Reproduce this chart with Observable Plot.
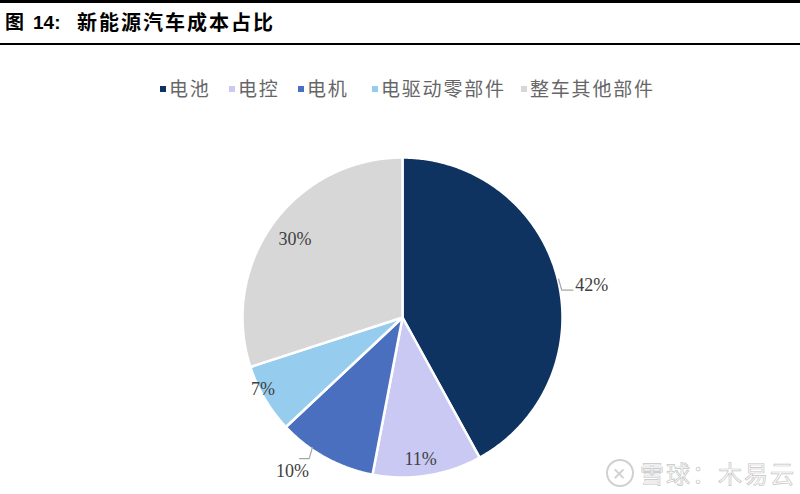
<!DOCTYPE html>
<html><head><meta charset="utf-8">
<script src="https://cdn.jsdelivr.net/npm/d3@7"></script>
<script src="https://cdn.jsdelivr.net/npm/@observablehq/plot@0.6"></script>
<style>
html,body{margin:0;padding:0;background:#fff;width:800px;height:494px;overflow:hidden;}
#title{position:absolute;left:0;top:0;width:800px;height:40px;border-top:3px solid #000;border-bottom:2px solid #000;font-family:"Liberation Sans","Noto Sans CJK SC",sans-serif;font-weight:bold;font-size:19px;line-height:40px;color:#000;}
#title .t1{position:absolute;left:5px;}
#title .t1b{position:absolute;left:33px;}
#title .t2{position:absolute;left:77px;letter-spacing:2px;font-size:20px;}
#legend{position:absolute;left:0;top:74px;width:800px;height:30px;font-family:"Noto Sans CJK SC",sans-serif;font-size:19px;color:#666;}
#legend .item{position:absolute;top:0;line-height:28px;letter-spacing:1.8px;white-space:nowrap;}
#legend .sw{display:inline-block;width:6px;height:6px;margin-right:3px;vertical-align:middle;position:relative;top:-2px;}
#chart{position:absolute;left:0;top:110px;}
#wm{position:absolute;left:606px;top:455px;font-family:"Noto Sans CJK SC",sans-serif;font-size:24px;color:#fff;-webkit-text-stroke:0.7px #c4c4c4;letter-spacing:2px;white-space:nowrap;}
#wm .logo{display:inline-block;width:24px;height:24px;border:2px solid #d0d0d0;border-radius:50%;vertical-align:middle;position:relative;top:-3px;margin-right:6px;font-size:17px;line-height:24px;text-align:center;color:#d0d0d0;-webkit-text-stroke:0;}
</style></head>
<body>
<div id="title"><span class="t1">图</span><span class="t1b">14:</span><span class="t2">新能源汽车成本占比</span></div>
<div id="legend"></div>
<div id="chart"></div>
<div id="wm"><span class="logo">✕</span>雪球：木易云</div>
<script>
const categories = ["电池", "电控", "电机", "电驱动零部件", "整车其他部件"];
const values = [42, 11, 10, 7, 30];
const labels = ["42%", "11%", "10%", "7%", "30%"];
const colors = ["#0f3361", "#c9c9f4", "#4a6fbe", "#96cdee", "#d7d7d7"];

// layout
const W = 800, H = 384, R = 160, cx = 402, cy = 207;
const legendX = [160, 229, 298, 372, 521];

// legend
const lg = d3.select("#legend");
categories.forEach((c, i) => {
  const it = lg.append("div").attr("class", "item").style("left", legendX[i] + "px");
  it.append("span").attr("class", "sw").style("background", colors[i]);
  it.append("span").text(c);
});

// slices
const pie = d3.pie().sort(null).value(d => d.value)(values.map((v, i) => ({cat: categories[i], value: v, i})));
const pts = [];
pie.forEach(p => {
  const n = Math.max(4, Math.ceil((p.endAngle - p.startAngle) / 0.01));
  pts.push({cat: p.data.cat, x: 0, y: 0});
  for (let k = 0; k <= n; k++) {
    const a = p.startAngle + (p.endAngle - p.startAngle) * k / n;
    pts.push({cat: p.data.cat, x: Math.sin(a), y: Math.cos(a)});
  }
  pts.push({cat: p.data.cat, x: 0, y: 0});
});

// label placement: radius factor (inside / outside) per slice
const labelRadius = [1.2, 0.89, 1.18, 0.98, 0.83];
const labelAngleShift = [0.08, 0.03, 0.12, 0.06, 0];
const lab = pie.map((p, i) => {
  const a = (p.startAngle + p.endAngle) / 2 + labelAngleShift[i];
  return {x: labelRadius[i] * Math.sin(a), y: labelRadius[i] * Math.cos(a), text: labels[i], i};
});
// leader lines for outside labels
const leaders = [];
[0, 2].forEach(i => {
  const p = pie[i];
  const a = (p.startAngle + p.endAngle) / 2 + labelAngleShift[i];
  const e = {x: 1.0 * Math.sin(a), y: 1.0 * Math.cos(a)};
  if (i === 0) {
    leaders.push({g: i, x: e.x - 0.01, y: e.y + 0.07}, {g: i, x: e.x + 0.01, y: e.y}, {g: i, x: e.x + 0.08, y: e.y});
  } else {
    leaders.push({g: i, x: e.x + 0.02, y: e.y + 0.0}, {g: i, x: e.x + 0.0, y: e.y - 0.07}, {g: i, x: e.x - 0.06, y: e.y - 0.07});
  }
});

const chart = Plot.plot({
  width: W, height: H,
  margin: 0,
  x: {domain: [-cx / R, (W - cx) / R], axis: null},
  y: {domain: [-(H - cy) / R, cy / R], axis: null},
  color: {domain: categories, range: colors},
  marks: [
    Plot.line(pts, {x: "x", y: "y", z: "cat", fill: "cat", stroke: "#fff", strokeWidth: 2.5, strokeLinejoin: "round", curve: "linear"}),
    Plot.line(leaders, {x: "x", y: "y", z: "g", stroke: "#a6a6a6", strokeWidth: 1.2}),
    Plot.text(lab, {x: "x", y: "y", text: "text", fill: "#404040", fontSize: 18, fontFamily: "Liberation Serif, serif"})
  ]
});
document.getElementById("chart").appendChild(chart);
</script>
</body></html>
